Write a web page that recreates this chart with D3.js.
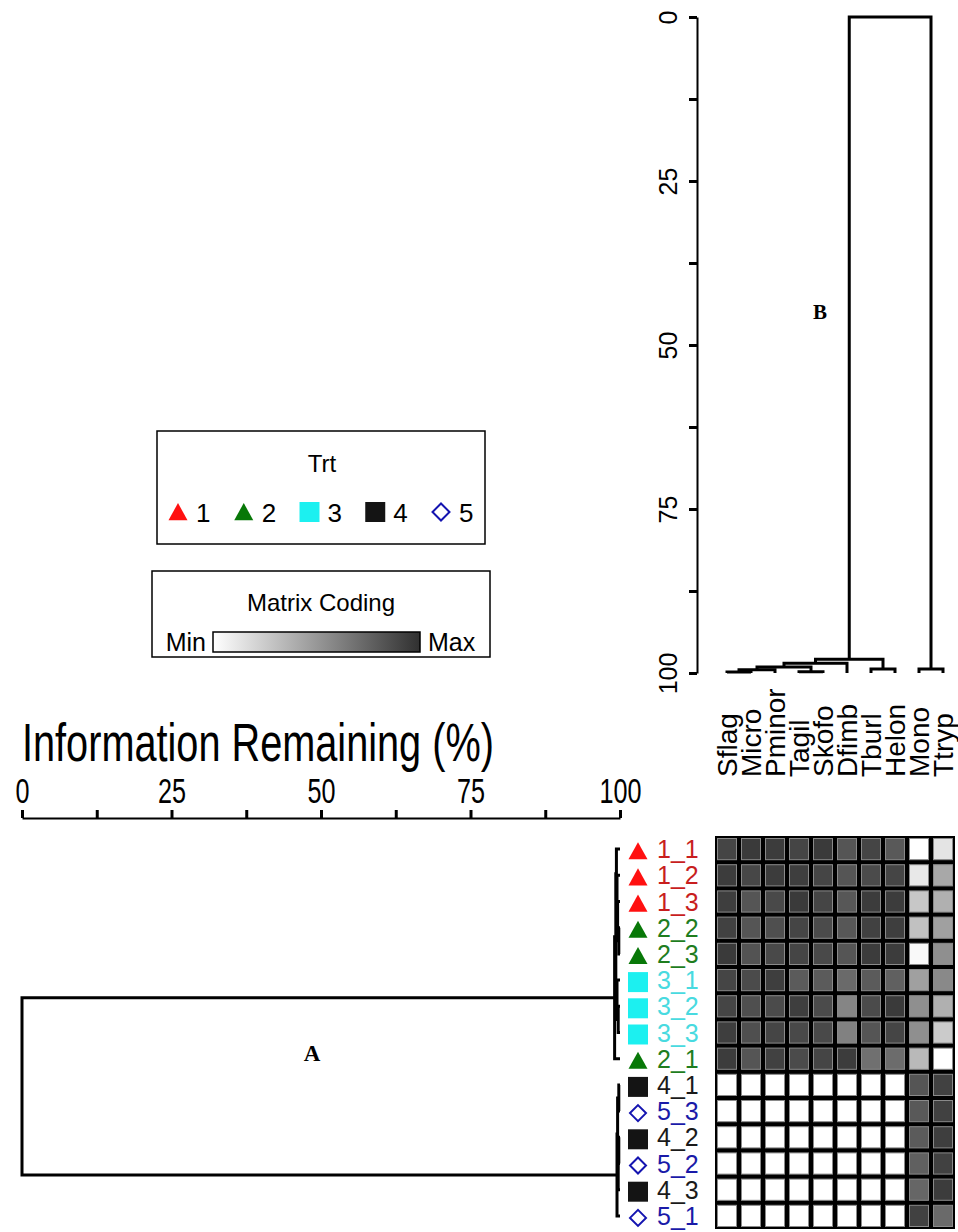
<!DOCTYPE html>
<html><head><meta charset="utf-8">
<script src="https://cdn.jsdelivr.net/npm/d3@7"></script>
<style>body{margin:0;background:#fff} svg{display:block}</style>
</head><body>
<svg id="c" width="958" height="1232"></svg>
<script>
// ---------------- DATA ----------------
const rowLabels = ["1_1","1_2","1_3","2_2","2_3","3_1","3_2","3_3","2_1","4_1","5_3","4_2","5_2","4_3","5_1"];
const colLabels = ["Sflag","Micro","Pminor","Tagil","Skofo","Dfimb","Tburl","Helon","Mono","Ttryp"];
// matrix coding (0 = Min, 100 = Max), rows in rowLabels order, columns in colLabels order
const m_1_1 = [90,95,94,90,95,82,90,80, 0,13];
const m_1_2 = [94,89,94,93,90,82,87,90,11,42];
const m_1_3 = [93,82,88,95,90,81,94,94,27,38];
const m_2_2 = [92,82,85,90,87,81,92,93,30,46];
const m_2_3 = [95,83,88,90,88,82,94,94, 3,54];
const m_3_1 = [90,87,93,79,79,72,79,77,46,57];
const m_3_2 = [90,85,87,93,87,59,87,95,54,38];
const m_3_3 = [93,85,90,88,88,61,82,90,54,25];
const m_2_1 = [94,82,92,87,90,94,69,71,34, 0];
const m_4_1 = [0,0,0,0,0,0,0,0,82,92];
const m_5_3 = [0,0,0,0,0,0,0,0,80,92];
const m_4_2 = [0,0,0,0,0,0,0,0,79,93];
const m_5_2 = [0,0,0,0,0,0,0,0,77,92];
const m_4_3 = [0,0,0,0,0,0,0,0,74,94];
const m_5_1 = [0,0,0,0,0,0,0,0,92,72];
const matrix = [m_1_1,m_1_2,m_1_3,m_2_2,m_2_3,m_3_1,m_3_2,m_3_3,m_2_1,m_4_1,m_5_3,m_4_2,m_5_2,m_4_3,m_5_1];

// treatment groups
const groups = ["1","2","3","4","5"];
const groupShape = ["triangle","triangle","square","square","diamond"];
const groupFill  = ["#ff1010","#087808","#1cf0f0","#141414","none"];
const groupStroke= ["none","none","none","none","#1414b0"];
const groupText  = ["#c81e1e","#1e7d1e","#48dae0","#1a1a1a","#1a1aa8"];

// dendrograms: [childA, childB, height(% information remaining)]; negative = leaf (1-based), positive = earlier merge
const colMerges = [[-1,-2,99.85],[1,-3,99.5],[-4,-5,99.8],[2,3,99.1],[4,-6,98.5],[-7,-8,99.4],[5,6,97.9],[-9,-10,99.4],[7,8,0]];
const rowMerges = [[-4,-5,99.8],[-3,1,99.6],[-2,2,99.5],[-1,3,99.4],[-7,-8,99.7],[-6,5,99.5],[4,6,99.3],[7,-9,99.1],
                   [-10,-11,99.8],[-12,-13,99.8],[10,-14,99.7],[9,11,99.6],[12,-15,99.5],[8,13,0]];
const axisTicks = [0,25,50,75,100];
const allTicks = [0,12.5,25,37.5,50,62.5,75,87.5,100];

// ---------------- DRAW ----------------
const svg = d3.select("#c");
const FONT = "'Liberation Sans', Arial, sans-serif";

const xCol = d3.scaleBand().domain(colLabels).range([715,955]);
const yRow = d3.scaleBand().domain(rowLabels).range([836,1229]);
const yB = d3.scaleLinear().domain([0,100]).range([17,673]);
const xA = d3.scaleLinear().domain([0,100]).range([22,620]);
const color = d3.scaleLinear().domain([0,100]).range(["#ffffff","#303030"]);

function dendro(merges, leafPos){
  const nodes = [];
  const get = k => k<0 ? {pos:leafPos[-k-1], h:100} : nodes[k-1];
  return merges.map(([a,b,h]) => {
    const A = get(a), B = get(b);
    nodes.push({pos:(A.pos+B.pos)/2, h});
    return {pa:A.pos, pb:B.pos, ha:A.h, hb:B.h, h};
  });
}

// Column dendrogram (B)
const colPos = colLabels.map(c => xCol(c) + xCol.bandwidth()/2);
svg.append("g").selectAll("path").data(dendro(colMerges, colPos)).join("path")
  .attr("d", s => `M${s.pa},${yB(s.ha)}V${yB(s.h)}H${s.pb}V${yB(s.hb)}`)
  .attr("fill","none").attr("stroke","#000").attr("stroke-width",3);

// B axis
const gB = svg.append("g").attr("transform","translate(697,0)")
  .call(d3.axisLeft(yB).tickValues(allTicks).tickSize(8).tickSizeOuter(0)
    .tickFormat(d => axisTicks.includes(d) ? d : ""));
gB.select(".domain").attr("stroke-width",2);
gB.selectAll(".tick line").attr("stroke-width",3);
gB.selectAll(".tick text").attr("transform","translate(-29,0) rotate(-90)")
  .attr("x",0).attr("y",0).attr("dy","0.35em").attr("text-anchor","middle")
  .style("font-family",FONT).style("font-size","25px").attr("fill","#000");

// Column labels
svg.append("g").selectAll("text").data(colLabels).join("text")
  .attr("transform", c => `translate(${xCol(c)+xCol.bandwidth()/2},777) rotate(-90)`)
  .attr("dy","0.35em").attr("text-anchor","start")
  .style("font-family",FONT).style("font-size","28px").text(c => c);

svg.append("text").attr("x",820).attr("y",319).attr("text-anchor","middle")
  .style("font-family","'Liberation Serif', 'Times New Roman', serif").style("font-weight","bold")
  .style("font-size","21px").text("B");

// Row dendrogram (A)
const rowPos = rowLabels.map(r => yRow(r) + yRow.bandwidth()/2);
svg.append("g").selectAll("path").data(dendro(rowMerges, rowPos)).join("path")
  .attr("d", s => `M${xA(s.ha)},${s.pa}H${xA(s.h)}V${s.pb}H${xA(s.hb)}`)
  .attr("fill","none").attr("stroke","#000").attr("stroke-width",3);

// A axis
const gA = svg.append("g").attr("transform","translate(0,818)")
  .call(d3.axisTop(xA).tickValues(allTicks).tickSize(8).tickSizeOuter(0)
    .tickFormat(d => axisTicks.includes(d) ? d : ""));
gA.select(".domain").attr("stroke-width",2);
gA.selectAll(".tick line").attr("stroke-width",3);
gA.selectAll(".tick text").attr("y",-15).attr("dy",0).attr("transform","scale(0.7,1)")
  .style("font-family",FONT).style("font-size","36px").attr("fill","#000");

svg.append("text").attr("transform","translate(22,761) scale(0.735,1)")
  .style("font-family",FONT).style("font-size","54px").text("Information Remaining (%)");

svg.append("text").attr("x",312).attr("y",1061).attr("text-anchor","middle")
  .style("font-family","'Liberation Serif', 'Times New Roman', serif").style("font-weight","bold")
  .style("font-size","23px").text("A");

// symbols
function symPath(shape, s){
  if(shape==="triangle") return `M0,${-s*0.47}L${s*0.5},${s*0.43}L${-s*0.5},${s*0.43}Z`;
  if(shape==="square") return `M${-s/2},${-s/2}h${s}v${s}h${-s}Z`;
  return `M0,${-s/2}L${s/2},0L0,${s/2}L${-s/2},0Z`;
}
const symSize = {triangle:19, square:20, diamond:16};

// row labels
const rowG = svg.append("g").selectAll("g").data(rowLabels).join("g")
  .attr("transform", r => `translate(0,${yRow(r)+yRow.bandwidth()/2})`);
rowG.append("path")
  .attr("transform","translate(638,2)")
  .attr("d", r => { const gi = groups.indexOf(r.split("_")[0]); return symPath(groupShape[gi], symSize[groupShape[gi]]); })
  .attr("fill", r => groupFill[groups.indexOf(r.split("_")[0])])
  .attr("stroke", r => groupStroke[groups.indexOf(r.split("_")[0])])
  .attr("stroke-width",2);
rowG.append("text").attr("x",657).attr("dy","0.36em")
  .style("font-family",FONT).style("font-size","25px")
  .attr("fill", r => groupText[groups.indexOf(r.split("_")[0])]).text(r => r);

// heatmap
svg.append("rect").attr("x",715).attr("y",836).attr("width",240).attr("height",393).attr("fill","#000");
const cells = [];
matrix.forEach((row,i) => row.forEach((v,j) => cells.push({r:rowLabels[i], c:colLabels[j], v})));
svg.append("g").selectAll("rect").data(cells).join("rect")
  .attr("x", d => xCol(d.c)+2.5).attr("y", d => yRow(d.r)+2.5)
  .attr("width", xCol.bandwidth()-5).attr("height", yRow.bandwidth()-5)
  .attr("fill", d => color(d.v)).attr("stroke","#8a8a8a").attr("stroke-width",1);

// Legend: Trt
svg.append("rect").attr("x",157).attr("y",431).attr("width",328).attr("height",113)
  .attr("fill","#fff").attr("stroke","#000").attr("stroke-width",1.5);
svg.append("text").attr("x",322).attr("y",472).attr("text-anchor","middle")
  .style("font-family",FONT).style("font-size","24px").text("Trt");
const lx = d3.scalePoint().domain(groups).range([178,441]);
const lg = svg.append("g").selectAll("g").data(groups).join("g")
  .attr("transform", g => `translate(${lx(g)},512)`);
lg.append("path")
  .attr("d", (g,i) => symPath(groupShape[i], groupShape[i]==="triangle"?19:(groupShape[i]==="square"?20:17)))
  .attr("fill", (g,i) => groupFill[i]).attr("stroke", (g,i) => groupStroke[i]).attr("stroke-width",2);
lg.append("text").attr("x",18).attr("y",10)
  .style("font-family",FONT).style("font-size","26px").text(g => g);

// Legend: Matrix Coding
svg.append("rect").attr("x",152).attr("y",571).attr("width",338).attr("height",86)
  .attr("fill","#fff").attr("stroke","#000").attr("stroke-width",1.5);
svg.append("text").attr("x",321).attr("y",611).attr("text-anchor","middle")
  .style("font-family",FONT).style("font-size","24px").text("Matrix Coding");
const grad = svg.append("defs").append("linearGradient").attr("id","mc");
grad.append("stop").attr("offset","0%").attr("stop-color",color(0));
grad.append("stop").attr("offset","100%").attr("stop-color",color(100));
svg.append("rect").attr("x",213).attr("y",632).attr("width",207).attr("height",20)
  .attr("fill","url(#mc)").attr("stroke","#000").attr("stroke-width",1.5);
svg.append("text").attr("x",206).attr("y",651).attr("text-anchor","end")
  .style("font-family",FONT).style("font-size","25px").text("Min");
svg.append("text").attr("x",428).attr("y",651)
  .style("font-family",FONT).style("font-size","25px").text("Max");
</script>
</body></html>
